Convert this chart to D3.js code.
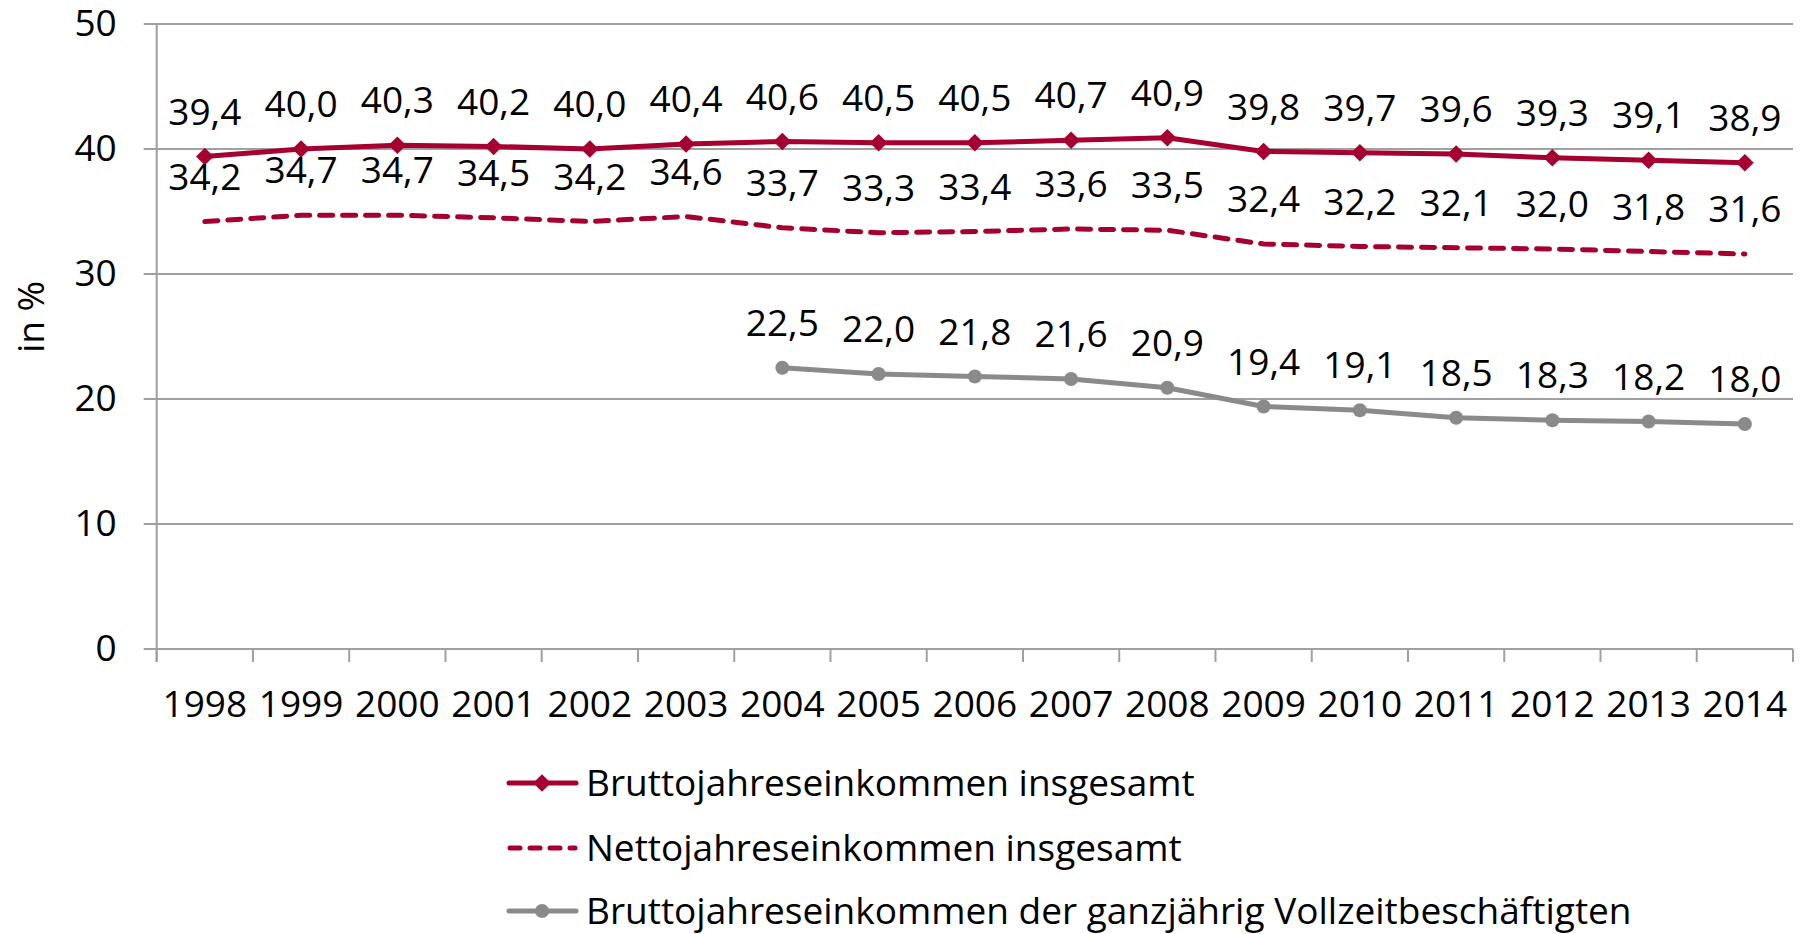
<!DOCTYPE html>
<html>
<head>
<meta charset="utf-8">
<script src="https://cdn.jsdelivr.net/npm/d3@7"></script>
<style>
  body { margin: 0; background: #fff; }
  svg { display: block; font-family: "Open Sans", sans-serif; }
</style>
</head>
<body>
<div id="chart"></div>
<script>
let years = ['1998', '1999', '2000', '2001', '2002', '2003', '2004', '2005', '2006', '2007', '2008', '2009', '2010', '2011', '2012', '2013', '2014'];
let bruttoValues = [39.4, 40.0, 40.3, 40.2, 40.0, 40.4, 40.6, 40.5, 40.5, 40.7, 40.9, 39.8, 39.7, 39.6, 39.3, 39.1, 38.9];
let nettoValues = [34.2, 34.7, 34.7, 34.5, 34.2, 34.6, 33.7, 33.3, 33.4, 33.6, 33.5, 32.4, 32.2, 32.1, 32.0, 31.8, 31.6];
let vollzeitYears = ['2004', '2005', '2006', '2007', '2008', '2009', '2010', '2011', '2012', '2013', '2014'];
let vollzeitValues = [22.5, 22.0, 21.8, 21.6, 20.9, 19.4, 19.1, 18.5, 18.3, 18.2, 18.0];
let yTicks = [0, 10, 20, 30, 40, 50];
let seriesNames = [
    'Bruttojahreseinkommen insgesamt',
    'Nettojahreseinkommen insgesamt',
    'Bruttojahreseinkommen der ganzjährig Vollzeitbeschäftigten'
];

let width = 1802, height = 934;
let plot = {left: 156.7, right: 1793, top: 24, bottom: 649};
let red = '#A50030', gray = '#8A8A8A', gridColor = '#A0A0A0';
let fontSize = 37;

let $svg = d3.select('#chart').append('svg')
    .attr('width', width)
    .attr('height', height);

let x = d3.scaleBand().domain(years).range([plot.left, plot.right]);
let y = d3.scaleLinear().domain([0, 50]).range([plot.bottom, plot.top]);
let cx = d => x(d) + x.bandwidth() / 2;
let fmt = v => v.toFixed(1).replace('.', ',');

// gridlines (inkl. kleine Überstände links)
$svg.append('g').selectAll('line')
    .data(yTicks)
    .join('line')
    .attr('x1', plot.left - 13).attr('x2', plot.right)
    .attr('y1', d => y(d)).attr('y2', d => y(d))
    .attr('stroke', gridColor)
    .attr('stroke-width', 2);

// y-Achse
let $yAxis = $svg.append('g')
    .attr('transform', `translate(${plot.left},0)`)
    .call(d3.axisLeft(y).tickValues(yTicks).tickSize(0).tickPadding(40));
$yAxis.select('.domain').remove();
$yAxis.selectAll('text')
    .attr('font-size', fontSize)
    .attr('font-family', '"Open Sans", sans-serif')
    .attr('fill', '#000');

$svg.append('line')
    .attr('x1', plot.left).attr('x2', plot.left)
    .attr('y1', plot.top).attr('y2', plot.bottom + 13)
    .attr('stroke', gridColor)
    .attr('stroke-width', 2);

// x-Achse: Ticks an den Kategoriegrenzen
let boundaries = years.map(d => x(d)).concat([plot.right]);
$svg.append('g').selectAll('line')
    .data(boundaries)
    .join('line')
    .attr('x1', d => d).attr('x2', d => d)
    .attr('y1', plot.bottom).attr('y2', plot.bottom + 13)
    .attr('stroke', gridColor)
    .attr('stroke-width', 2);

let $xAxis = $svg.append('g')
    .attr('transform', `translate(0,${plot.bottom})`)
    .call(d3.axisBottom(x).tickSize(0));
$xAxis.select('.domain').remove();
$xAxis.selectAll('text')
    .attr('dy', null)
    .attr('y', 68)
    .attr('font-size', fontSize)
    .attr('font-family', '"Open Sans", sans-serif')
    .attr('fill', '#000');

// Achsentitel
$svg.append('text')
    .attr('transform', `translate(${44},${317}) rotate(-90)`)
    .attr('text-anchor', 'middle')
    .attr('font-size', fontSize)
    .text('in %');

let line = d3.line().x(d => cx(d[0])).y(d => y(d[1]));
let bruttoData = d3.zip(years, bruttoValues);
let nettoData = d3.zip(years, nettoValues);
let vollzeitData = d3.zip(vollzeitYears, vollzeitValues);

// Netto (gestrichelt)
$svg.append('path')
    .attr('d', line(nettoData))
    .attr('fill', 'none')
    .attr('stroke', red)
    .attr('stroke-width', 5)
    .attr('stroke-linecap', 'round')
    .attr('stroke-dasharray', '13,10');

// Brutto
$svg.append('path')
    .attr('d', line(bruttoData))
    .attr('fill', 'none')
    .attr('stroke', red)
    .attr('stroke-width', 5)
    .attr('stroke-linejoin', 'round');
let diamond = d3.symbol().type(d3.symbolDiamond2).size(200);
$svg.append('g').selectAll('path')
    .data(bruttoData)
    .join('path')
    .attr('transform', d => `translate(${cx(d[0])},${y(d[1])})`)
    .attr('d', diamond)
    .attr('fill', red);

// Vollzeit
$svg.append('path')
    .attr('d', line(vollzeitData))
    .attr('fill', 'none')
    .attr('stroke', gray)
    .attr('stroke-width', 5)
    .attr('stroke-linejoin', 'round');
$svg.append('g').selectAll('circle')
    .data(vollzeitData)
    .join('circle')
    .attr('cx', d => cx(d[0]))
    .attr('cy', d => y(d[1]))
    .attr('r', 7)
    .attr('fill', gray);

// Datenbeschriftungen
[bruttoData, nettoData, vollzeitData].forEach(data => {
    $svg.append('g').selectAll('text')
        .data(data)
        .join('text')
        .attr('x', d => cx(d[0]))
        .attr('y', d => y(d[1]) - 32)
        .attr('text-anchor', 'middle')
        .attr('font-size', fontSize)
        .attr('fill', '#000')
        .text(d => fmt(d[1]));
});

// Legende
let legendY = [783, 848, 911];
let $legend = $svg.append('g');
seriesNames.forEach((name, i) => {
    let ly = legendY[i];
    let $row = $legend.append('g');
    let color = i === 2 ? gray : red;
    let $l = $row.append('line')
        .attr('x1', 509).attr('x2', 576)
        .attr('y1', ly).attr('y2', ly)
        .attr('stroke', color)
        .attr('stroke-width', 5)
        .attr('stroke-linecap', 'round');
    if (i === 1) $l.attr('stroke-dasharray', '10,10').attr('x1', 510).attr('x2', 575);
    if (i === 0) {
        $row.append('path')
            .attr('transform', `translate(542,${ly})`)
            .attr('d', diamond)
            .attr('fill', red);
    }
    if (i === 2) {
        $row.append('circle')
            .attr('cx', 542).attr('cy', ly).attr('r', 7)
            .attr('fill', gray);
    }
    $row.append('text')
        .attr('x', 586)
        .attr('y', ly)
        .attr('dy', '0.36em')
        .attr('font-size', fontSize)
        .attr('fill', '#000')
        .text(name);
});
</script>
</body>
</html>
